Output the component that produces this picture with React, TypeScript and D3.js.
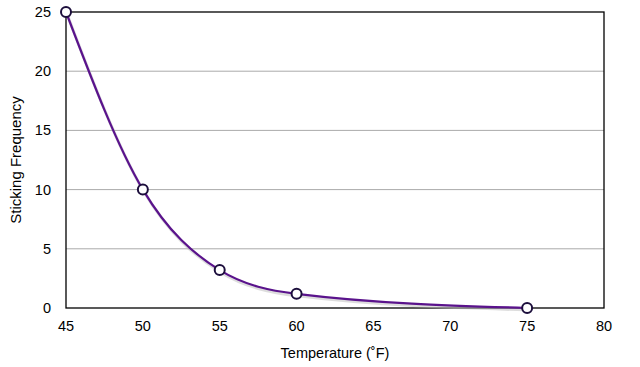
import React from "react";
import * as d3 from "d3";

const temps = [45, 50, 55, 60, 75];
const freqs = [25, 10, 3.2, 1.2, 0];
const xTicks = [45, 50, 55, 60, 65, 70, 75, 80];
const yTicks = [0, 5, 10, 15, 20, 25];

export default function App() {
  const W = 640, H = 367;
  const x = d3.scaleLinear().domain([45, 80]).range([66, 604]);
  const y = d3.scaleLinear().domain([0, 25]).range([308, 12]);
  const pts = temps.map((t, i) => [t, freqs[i]] as [number, number]);
  const line = d3.line<[number, number]>().x(d => x(d[0])).y(d => y(d[1])).curve(d3.curveMonotoneX);
  const path = line(pts) || "";
  const font = "'Liberation Sans', Arial, Helvetica, sans-serif";
  return (
    <svg width={W} height={H} style={{ position: "absolute", left: 0, top: 0 }} fontFamily={font}>
      <rect width={W} height={H} fill="#fff" />
      {yTicks.filter(t => t > 0 && t < 25).map(t => (
        <line key={t} x1={x(45)} x2={x(80)} y1={y(t)} y2={y(t)} stroke="#aaa" strokeWidth={1} />
      ))}
      <rect x={x(45)} y={y(25)} width={x(80) - x(45)} height={y(0) - y(25)} fill="none" stroke="#000" strokeWidth={1.3} />
      {yTicks.map(t => (
        <text key={t} x={51} y={y(t) + 5} textAnchor="end" fontSize={14.5} fill="#000">{t}</text>
      ))}
      {xTicks.map(t => (
        <text key={t} x={x(t)} y={331} textAnchor="middle" fontSize={14.5} fill="#000">{t}</text>
      ))}
      <text x={(x(45) + x(80)) / 2} y={358} textAnchor="middle" fontSize={14.5}>Temperature (˚F)</text>
      <text transform={`translate(21,${(y(0) + y(25)) / 2}) rotate(-90)`} textAnchor="middle" fontSize={15}>Sticking Frequency</text>
      <path d={path} fill="none" stroke="#bbb" strokeWidth={3} transform="translate(1,2)" opacity={0.5} />
      <path d={path} fill="none" stroke="#5a138c" strokeWidth={2.2} />
      {pts.map((p, i) => (
        <circle key={i} cx={x(p[0])} cy={y(p[1])} r={5} fill="#fff" stroke="#1c0e3c" strokeWidth={2} />
      ))}
    </svg>
  );
}
